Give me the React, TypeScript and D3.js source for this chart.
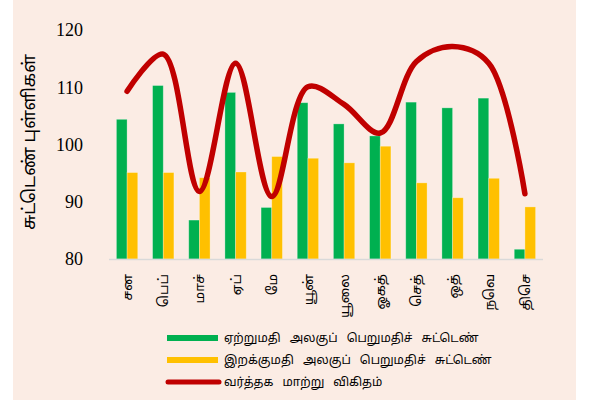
import React, { useEffect, useRef } from 'react';
import * as d3 from 'd3';

const months = ['சன', 'பெப்', 'மாச்', 'ஏப்', 'மே', 'யூன்', 'யூலை', 'ஓகத்', 'செத்', 'ஒத்', 'நவெ', 'திசெ'];
const exportIndex = [104.4, 110.3, 86.8, 109.1, 89.0, 107.3, 103.6, 101.5, 107.4, 106.4, 108.1, 81.7];
const importIndex = [95.1, 95.1, 94.2, 95.2, 97.9, 97.6, 96.8, 99.7, 93.3, 90.7, 94.1, 89.1];
const termsOfTrade = [109.3, 115.8, 91.8, 114.2, 90.9, 110.1, 107.0, 102.0, 114.5, 117.1, 114.2, 91.4];
const yTicks = [80, 90, 100, 110, 120];

const seriesNames = [
  'ஏற்றுமதி அலகுப் பெறுமதிச் சுட்டெண்',
  'இறக்குமதி அலகுப் பெறுமதிச் சுட்டெண்',
  'வர்த்தக மாற்று விகிதம்',
];
const yTitle = 'சுட்டெண் புள்ளிகள்';

const tamilFont = '"Noto Sans Tamil", "Latha", "Noto Sans", sans-serif';

const App: React.FC = () => {
  const svgRef = useRef<SVGSVGElement>(null);

  useEffect(() => {
    if (!svgRef.current) return;
    const svg = d3.select(svgRef.current);
    svg.selectAll('*').remove();

    // background panel
    svg.append('rect')
      .attr('x', 13).attr('y', 0)
      .attr('width', 563).attr('height', 400)
      .attr('fill', '#FBECE4');

    const x = d3.scaleBand<string>().domain(months).range([109, 543]).padding(0);
    const y = d3.scaleLinear().domain([80, 120]).range([259, 30]);
    const groupW = x.bandwidth() * 0.59;
    const x1 = d3.scaleBand<number>().domain([0, 1]).range([0, groupW]).padding(0);
    const off = (x.bandwidth() - groupW) / 2;

    // y tick labels
    svg.append('g').selectAll('text')
      .data(yTicks)
      .enter().append('text')
      .attr('x', 83)
      .attr('y', d => y(d))
      .attr('dy', '0.35em')
      .attr('text-anchor', 'end')
      .style('font-family', '"Liberation Serif", serif')
      .style('font-size', '18px')
      .attr('fill', '#000')
      .text(d => d);

    // y title
    svg.append('text')
      .attr('transform', `translate(35,142) rotate(-90)`)
      .attr('text-anchor', 'middle')
      .style('font-family', tamilFont)
      .style('font-size', '17.5px')
      .attr('fill', '#000')
      .text(yTitle);

    // bars
    const bars = svg.append('g');
    const series = [exportIndex, importIndex];
    const colors = ['#00B050', '#FFC000'];
    series.forEach((vals, si) => {
      bars.selectAll(`.bar${si}`)
        .data(vals)
        .enter().append('rect')
        .attr('class', `bar${si}`)
        .attr('x', (_, i) => (x(months[i]) || 0) + off + (x1(si) || 0))
        .attr('y', d => y(d))
        .attr('width', x1.bandwidth())
        .attr('height', d => y(80) - y(d))
        .attr('fill', colors[si])
        .attr('stroke', 'rgba(255,255,255,0.35)')
        .attr('stroke-width', 0.8);
    });

    // x axis line
    svg.append('line')
      .attr('x1', 109).attr('x2', 543)
      .attr('y1', y(80) + 0.5).attr('y2', y(80) + 0.5)
      .attr('stroke', '#D9D9D9')
      .attr('stroke-width', 1.5);

    // category labels
    svg.append('g').selectAll('text')
      .data(months)
      .enter().append('text')
      .attr('transform', d => `translate(${(x(d) || 0) + x.bandwidth() / 2 + 5},274) rotate(-90)`)
      .attr('text-anchor', 'end')
      .style('font-family', tamilFont)
      .style('font-size', '13.5px')
      .attr('fill', '#000')
      .text(d => d);

    // smoothed line
    const line = d3.line<number>()
      .x((_, i) => (x(months[i]) || 0) + x.bandwidth() / 2)
      .y(d => y(d))
      .curve(d3.curveCatmullRom.alpha(0.5));
    svg.append('path')
      .datum(termsOfTrade)
      .attr('d', line)
      .attr('fill', 'none')
      .attr('stroke', '#C00000')
      .attr('stroke-width', 5.5)
      .attr('stroke-linecap', 'round');

    // legend
    const legendY = [338, 360, 382];
    const legendColors = ['#00B050', '#FFC000', '#C00000'];
    const lg = svg.append('g');
    seriesNames.forEach((name, i) => {
      lg.append('line')
        .attr('x1', i === 2 ? 168 : 167).attr('x2', i === 2 ? 219 : 218)
        .attr('y1', legendY[i]).attr('y2', legendY[i])
        .attr('stroke', legendColors[i])
        .attr('stroke-width', i === 2 ? 5 : 6)
        .attr('stroke-linecap', i === 2 ? 'round' : 'butt');
      lg.append('text')
        .attr('x', 224)
        .attr('y', legendY[i])
        .attr('dy', '0.35em')
        .style('font-family', tamilFont)
        .style('font-size', '12px')
        .style('word-spacing', '6px')
        .attr('fill', '#000')
        .text(name);
    });
  }, []);

  return (
    <svg
      ref={svgRef}
      width={594}
      height={405}
      style={{ position: 'absolute', left: 0, top: 0, background: '#fff' }}
    />
  );
};

export default App;
